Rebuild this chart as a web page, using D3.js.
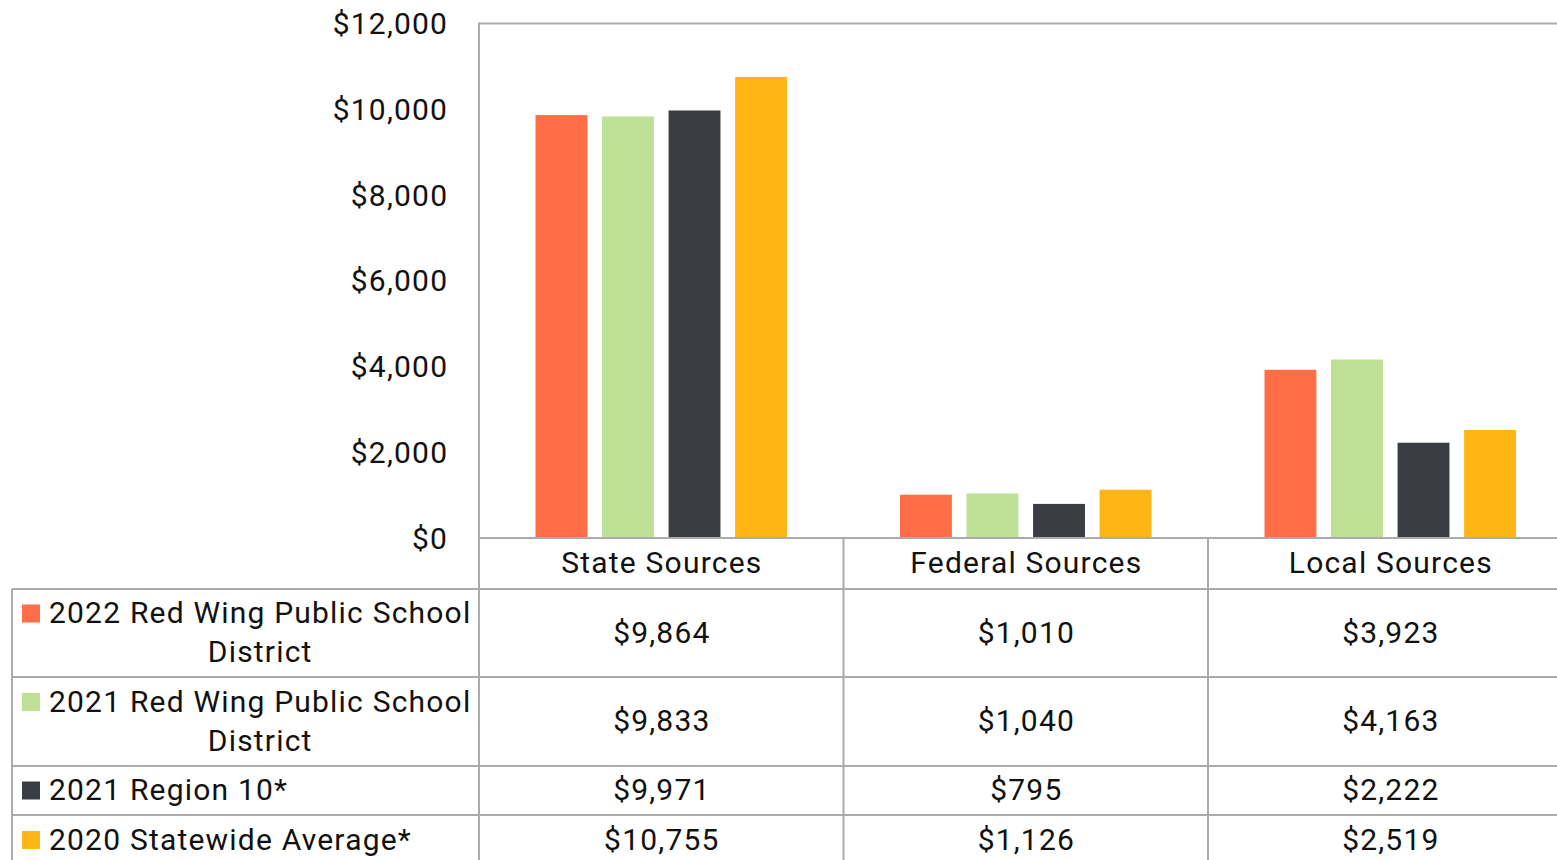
<!DOCTYPE html>
<html><head><meta charset="utf-8">
<script src="https://cdn.jsdelivr.net/npm/d3@7"></script>
<style>
html,body{margin:0;padding:0;background:#fff;}
svg{display:block;font-family:Roboto,"Noto Sans",sans-serif;}
</style></head>
<body>
<svg id="c" width="1557" height="860"></svg>
<script>
const categories = ["State Sources", "Federal Sources", "Local Sources"];
const seriesNames = [
  ["2022 Red Wing Public School", "District"],
  ["2021 Red Wing Public School", "District"],
  ["2021 Region 10*"],
  ["2020 Statewide Average*"]
];
const series2022RW = [9864, 1010, 3923];
const series2021RW = [9833, 1040, 4163];
const series2021Region = [9971, 795, 2222];
const series2020State = [10755, 1126, 2519];
const yTicks = [0, 2000, 4000, 6000, 8000, 10000, 12000];
const colors = ["#FF6E47", "#BEE196", "#3A3E42", "#FFB515"];

const seriesValues = [series2022RW, series2021RW, series2021Region, series2020State];

const svg = d3.select("#c");
const plotLeft = 479, plotTop = 23.5, plotBottom = 538, bandW = 364.5;
const tableLeft = 12;
const rowEdges = [538, 589, 677, 766, 815, 880];
const gridColor = "#ABABAB";
const textColor = "#111";
const fs = 30;
const ls = 1.2;

const x0 = d3.scaleBand().domain(categories).range([plotLeft, plotLeft + bandW * categories.length]).padding(0);
const x1 = d3.scaleBand().domain(d3.range(seriesValues.length))
  .range([x0.bandwidth() * 0.155, x0.bandwidth() * 0.845]).paddingInner(0.22);
const y = d3.scaleLinear().domain([0, 12000]).range([plotBottom, plotTop]);

// bars
categories.forEach((cat, ci) => {
  svg.append("g").attr("transform", `translate(${x0(cat)},0)`)
    .selectAll("rect").data(seriesValues.map((s, si) => ({si, v: s[ci]})))
    .join("rect")
    .attr("x", d => x1(d.si))
    .attr("width", x1.bandwidth())
    .attr("y", d => y(d.v))
    .attr("height", d => y(0) - y(d.v))
    .attr("fill", d => colors[d.si]);
});

// y axis labels
const fmt = d3.format("$,");
svg.append("g").selectAll("text").data(yTicks).join("text")
  .attr("x", 447 + ls).attr("y", d => y(d)).attr("dy", "0.35em")
  .attr("text-anchor", "end").attr("font-size", fs).attr("fill", textColor)
  .attr("letter-spacing", ls)
  .text(d => fmt(d));

// plot frame lines
const lines = svg.append("g").attr("stroke", gridColor).attr("stroke-width", 2).attr("fill", "none");
lines.append("line").attr("x1", plotLeft).attr("x2", 1600).attr("y1", plotTop).attr("y2", plotTop);
lines.append("line").attr("x1", plotLeft).attr("x2", plotLeft).attr("y1", plotTop - 1).attr("y2", 870);
rowEdges.slice(0, 5).forEach((ry, i) => {
  lines.append("line").attr("x1", i === 0 ? plotLeft : tableLeft).attr("x2", 1600).attr("y1", ry).attr("y2", ry);
});
lines.append("line").attr("x1", tableLeft).attr("x2", tableLeft).attr("y1", rowEdges[1]).attr("y2", 870);
categories.forEach((cat, i) => {
  if (i > 0) lines.append("line").attr("x1", x0(cat)).attr("x2", x0(cat)).attr("y1", rowEdges[0]).attr("y2", 870);
});

// header
svg.append("g").selectAll("text").data(categories).join("text")
  .attr("x", d => x0(d) + x0.bandwidth() / 2 + ls / 2)
  .attr("y", (rowEdges[0] + rowEdges[1]) / 2 - 1).attr("dy", "0.35em")
  .attr("text-anchor", "middle").attr("font-size", fs).attr("fill", textColor)
  .attr("letter-spacing", ls)
  .text(d => d);

// rows
const rowMid = i => i < 3 ? (rowEdges[i + 1] + rowEdges[i + 2]) / 2 : 840;
seriesValues.forEach((s, si) => {
  const cy = rowMid(si) - 1;
  const names = seriesNames[si];
  const lh = 39;
  const firstY = cy - (names.length - 1) * lh / 2;
  svg.append("rect").attr("x", 22).attr("y", firstY - 8).attr("width", 18).attr("height", 18).attr("fill", colors[si]);
  const t1 = svg.append("text").attr("x", 49).attr("y", firstY).attr("dy", "0.35em")
    .attr("font-size", fs).attr("fill", textColor).attr("letter-spacing", ls).text(names[0]);
  if (names.length > 1) {
    const w = t1.node().getComputedTextLength();
    svg.append("text").attr("x", 49 + w / 2).attr("y", firstY + lh).attr("dy", "0.35em")
      .attr("text-anchor", "middle").attr("font-size", fs).attr("fill", textColor).attr("letter-spacing", ls).text(names[1]);
  }
  svg.append("g").selectAll("text").data(categories).join("text")
    .attr("x", d => x0(d) + x0.bandwidth() / 2 + ls / 2)
    .attr("y", cy).attr("dy", "0.35em")
    .attr("text-anchor", "middle").attr("font-size", fs).attr("fill", textColor).attr("letter-spacing", ls)
    .text((d, ci) => fmt(s[ci]));
});
</script>
</body></html>
